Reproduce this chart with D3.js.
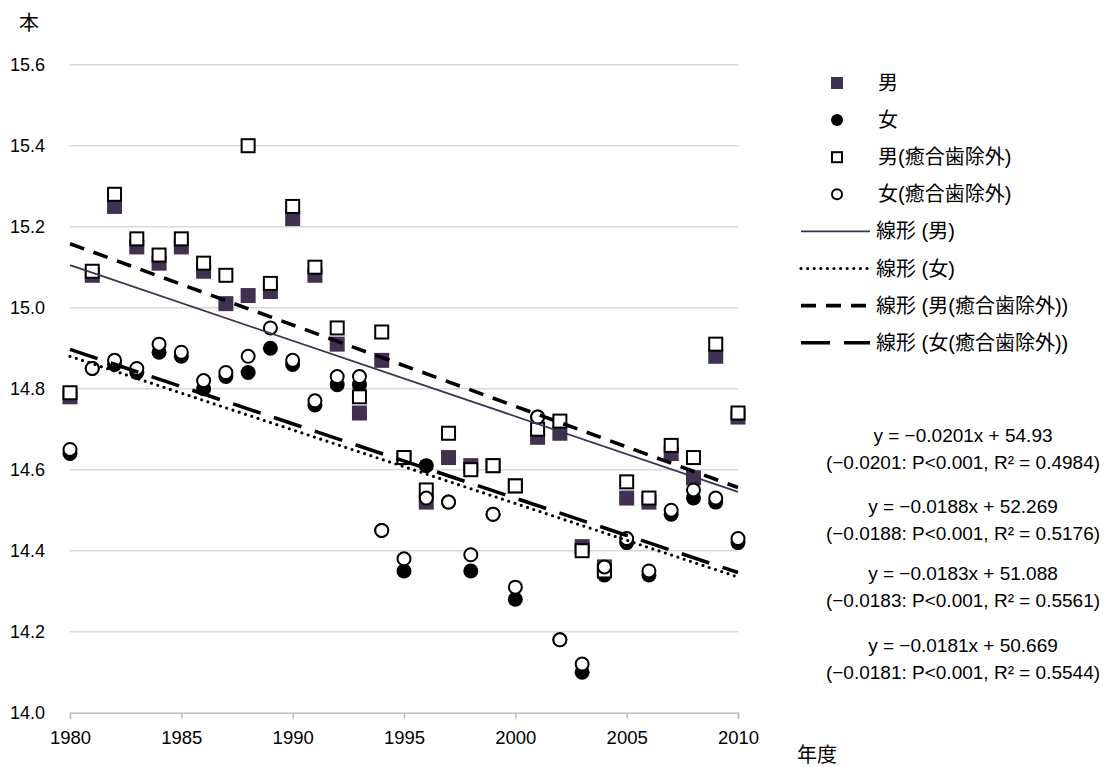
<!DOCTYPE html>
<html>
<head>
<meta charset="utf-8">
<script src="https://cdn.jsdelivr.net/npm/d3@7"></script>
<style>
  html, body { margin: 0; padding: 0; background: #fff; }
  text { font-family: "Liberation Sans", "Noto Sans CJK JP", sans-serif; fill: #000; }
</style>
</head>
<body>
<svg id="chart" width="1107" height="767"></svg>
<script>
// ---------- data ----------
const years = d3.range(1980, 2011);
const male = [14.78,15.08,15.25,15.15,15.11,15.15,15.09,15.01,15.03,15.04,15.22,15.08,14.91,14.74,14.87,14.63,14.52,14.63,14.61,14.61,14.56,14.68,14.69,14.41,14.36,14.53,14.52,14.64,14.58,14.88,14.73];
const female = [14.64,14.85,14.86,14.84,14.89,14.88,14.80,14.83,14.84,14.90,14.86,14.76,14.81,14.81,14.45,14.35,14.61,14.52,14.35,14.49,14.28,14.73,14.18,14.10,14.34,14.42,14.34,14.49,14.53,14.52,14.42];
const maleEx = [14.79,15.09,15.28,15.17,15.13,15.17,15.11,15.08,15.40,15.06,15.25,15.10,14.95,14.78,14.94,14.63,14.55,14.69,14.60,14.61,14.56,14.70,14.72,14.40,14.35,14.57,14.53,14.66,14.63,14.91,14.74];
const femaleEx = [14.65,14.85,14.87,14.85,14.91,14.89,14.82,14.84,14.88,14.95,14.87,14.77,14.83,14.83,14.45,14.38,14.53,14.52,14.39,14.49,14.31,14.73,14.18,14.12,14.36,14.43,14.35,14.50,14.55,14.53,14.43];
// trend lines (男, 女, 男除外, 女除外) at 1980 and 2010
const trendYears = [1980, 2010];
const trendStart = [15.105, 14.880, 15.158, 14.897];
const trendEnd = [14.545, 14.335, 14.556, 14.346];
const yTicks = [14.0, 14.2, 14.4, 14.6, 14.8, 15.0, 15.2, 15.4, 15.6];
const xTicks = [1980, 1985, 1990, 1995, 2000, 2005, 2010];
const legendLabels = ["男", "女", "男(癒合歯除外)", "女(癒合歯除外)", "線形 (男)", "線形 (女)", "線形 (男(癒合歯除外))", "線形 (女(癒合歯除外))"];
const equations = [
  ["y = −0.0201x + 54.93", "(−0.0201: P<0.001, R² = 0.4984)"],
  ["y = −0.0188x + 52.269", "(−0.0188: P<0.001, R² = 0.5176)"],
  ["y = −0.0183x + 51.088", "(−0.0183: P<0.001, R² = 0.5561)"],
  ["y = −0.0181x + 50.669", "(−0.0181: P<0.001, R² = 0.5544)"]
];
const yTitle = "本";
const xTitle = "年度";

// ---------- setup ----------
const PURPLE = "#403151";
const svg = d3.select("#chart");
const x = d3.scaleLinear().domain([1980, 2010]).range([70, 738]);
const y = d3.scaleLinear().domain([14.0, 15.6]).range([712.7, 64.7]);

// gridlines
svg.append("g").selectAll("line").data(yTicks.slice(1)).join("line")
  .attr("x1", x(1980)).attr("x2", x(2010))
  .attr("y1", d => y(d)).attr("y2", d => y(d))
  .attr("stroke", "#d9d9d9").attr("stroke-width", 1.5);

// x axis
const xAxis = d3.axisBottom(x).tickValues(xTicks).tickFormat(d3.format("d")).tickSize(6).tickPadding(12);
const gx = svg.append("g").attr("transform", `translate(0,${y(14.0)})`).call(xAxis);
gx.select(".domain").attr("stroke", "#bfbfbf").attr("stroke-width", 1.5);
gx.selectAll(".tick line").attr("stroke", "#bfbfbf").attr("stroke-width", 1.5);
gx.selectAll(".tick text").style("font-size", "18.5px").attr("fill", "#000");

// y axis labels
const yAxis = d3.axisLeft(y).tickValues(yTicks).tickFormat(d3.format(".1f")).tickSize(0).tickPadding(0);
const gy = svg.append("g").attr("transform", "translate(45,0)").call(yAxis);
gy.select(".domain").remove();
gy.selectAll(".tick text").style("font-size", "18px").attr("fill", "#000");

// axis titles
svg.append("text").attr("x", 29).attr("y", 30).attr("text-anchor", "middle").style("font-size", "20px").text(yTitle);
svg.append("text").attr("x", 817).attr("y", 762).attr("text-anchor", "middle").style("font-size", "20px").text(xTitle);

// ---------- markers ----------
const zip = arr => years.map((yr, i) => ({yr, v: arr[i]}));
svg.append("g").selectAll("rect").data(zip(male)).join("rect")
  .attr("x", d => x(d.yr) - 7.5).attr("y", d => y(d.v) - 7.5)
  .attr("width", 15).attr("height", 15).attr("fill", PURPLE);
svg.append("g").selectAll("circle").data(zip(female)).join("circle")
  .attr("cx", d => x(d.yr)).attr("cy", d => y(d.v)).attr("r", 7.5).attr("fill", "#000");
svg.append("g").selectAll("rect").data(zip(maleEx)).join("rect")
  .attr("x", d => x(d.yr) - 6.5).attr("y", d => y(d.v) - 6.5)
  .attr("width", 13).attr("height", 13).attr("fill", "#fff").attr("stroke", "#000").attr("stroke-width", 2);
svg.append("g").selectAll("circle").data(zip(femaleEx)).join("circle")
  .attr("cx", d => x(d.yr)).attr("cy", d => y(d.v)).attr("r", 6.5)
  .attr("fill", "#fff").attr("stroke", "#000").attr("stroke-width", 2);

// ---------- trend lines ----------
const line = d3.line().x(d => x(d.yr)).y(d => y(d.v));
const styles = [
  {stroke: PURPLE, width: 1.8, dash: null, cap: "butt"},
  {stroke: "#000", width: 3.2, dash: "0 6.6", cap: "round"},
  {stroke: "#000", width: 3.6, dash: "15 10", cap: "butt"},
  {stroke: "#000", width: 3.6, dash: "29 14", cap: "butt"}
];
styles.forEach((s, i) => {
  const pts = trendYears.map((t, j) => ({yr: t, v: j === 0 ? trendStart[i] : trendEnd[i]}));
  svg.append("path").datum(pts).attr("d", line)
    .attr("fill", "none").attr("stroke", s.stroke).attr("stroke-width", s.width)
    .attr("stroke-dasharray", s.dash).attr("stroke-linecap", s.cap);
});

// ---------- legend ----------
const lg = svg.append("g");
const ly = i => 83 + i * 37.1;
legendLabels.forEach((lab, i) => {
  const cy = ly(i);
  if (i === 0) lg.append("rect").attr("x", 831).attr("y", cy - 6).attr("width", 12).attr("height", 12).attr("fill", PURPLE);
  else if (i === 1) lg.append("circle").attr("cx", 837).attr("cy", cy).attr("r", 6).attr("fill", "#000");
  else if (i === 2) lg.append("rect").attr("x", 832).attr("y", cy - 5).attr("width", 10).attr("height", 10).attr("fill", "#fff").attr("stroke", "#000").attr("stroke-width", 2);
  else if (i === 3) lg.append("circle").attr("cx", 837).attr("cy", cy).attr("r", 5).attr("fill", "#fff").attr("stroke", "#000").attr("stroke-width", 2);
  else {
    const s = styles[i - 4];
    lg.append("line").attr("x1", 801).attr("x2", 870).attr("y1", cy).attr("y2", cy)
      .attr("stroke", s.stroke).attr("stroke-width", s.width)
      .attr("stroke-dasharray", s.dash).attr("stroke-linecap", s.cap);
  }
  lg.append("text").attr("x", i < 4 ? 878 : 876).attr("y", cy).attr("dy", "0.35em")
    .style("font-size", "20px").text(lab);
});

// ---------- equations ----------
const eqY = [435, 506, 573, 645];
equations.forEach((pair, i) => {
  pair.forEach((t, j) => {
    svg.append("text").attr("x", 963).attr("y", eqY[i] + j * 27.5).attr("dy", "0.35em")
      .attr("text-anchor", "middle").style("font-size", "19px").text(t);
  });
});
</script>
</body>
</html>
